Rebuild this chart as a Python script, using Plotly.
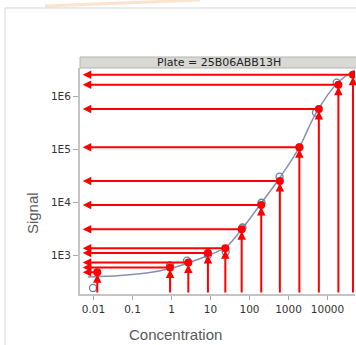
import numpy as np
import plotly.graph_objects as go

# ---- data ----
conc_points = [0.0125, 0.92, 2.7, 8.6, 24, 63, 200, 600, 1900, 6000, 19000, 45000]
signal_points = [478, 589, 731, 1105, 1356, 3095, 8890, 25200, 109000, 576000, 1660000, 2560000]

conc_obs = [0.0097, 0.92, 2.49, 8.6, 24.5, 66, 203, 588, 1900, 5070, 17200]
signal_obs = [242, 643, 791, 1014, 1169, 3350, 9810, 30400, 109000, 491000, 1810000]

conc_curve = [0.0072, 0.048, 0.28, 0.92, 2.65, 8.6, 24.9, 64, 197, 605, 1860, 5070, 17500, 50000]
signal_curve = [390, 416, 473, 564, 716, 991, 1435, 3133, 9490, 29400, 106000, 484000, 1750000, 3130000]

x_tickvals = [0.01, 0.1, 1, 10, 100, 1000, 10000]
x_ticktext = ["0.01", "0.1", "1", "10", "100", "1000", "10000"]
y_tickvals = [1e3, 1e4, 1e5, 1e6]
y_ticktext = ["1E3", "1E4", "1E5", "1E6"]

strip_title = "Plate = 25B06ABB13H"
x_title = "Concentration"
y_title = "Signal"

X_RANGE = [-2.346, 4.705]
Y_RANGE = [2.270, 6.534]

RED = "#ff0000"

fig = go.Figure()

fig.add_trace(go.Scatter(
    x=conc_curve, y=signal_curve, mode="lines",
    line=dict(color="#8890b0", width=1.5, shape="spline"),
    hoverinfo="skip", showlegend=False))

fig.add_trace(go.Scatter(
    x=conc_obs, y=signal_obs, mode="markers",
    marker=dict(symbol="circle-open", size=7, color="#6f7ca6", line=dict(width=1.3)),
    showlegend=False))

fig.add_trace(go.Scatter(
    x=conc_points, y=signal_points, mode="markers",
    marker=dict(symbol="circle", size=8, color=RED),
    showlegend=False))

annotations = []
x_tip = X_RANGE[0] + 0.07
for c, s in zip(conc_points, signal_points):
    lc, ls = np.log10(c), np.log10(s)
    # horizontal arrow: from point to the y axis
    annotations.append(dict(
        x=x_tip, y=ls, ax=lc, ay=ls, xref="x", yref="y", axref="x", ayref="y",
        text="", showarrow=True, arrowhead=2, arrowsize=0.85, arrowwidth=2,
        arrowcolor=RED, standoff=0, startstandoff=0))
    # vertical arrow: from x axis up to the point
    annotations.append(dict(
        x=lc, y=ls, ax=lc, ay=Y_RANGE[0], xref="x", yref="y", axref="x", ayref="y",
        text="", showarrow=True, arrowhead=2, arrowsize=0.85, arrowwidth=2,
        arrowcolor=RED, standoff=2, startstandoff=0))

annotations.append(dict(
    x=0.505, y=1.0243, xref="paper", yref="paper", text=strip_title,
    showarrow=False, font=dict(family="DejaVu Sans", size=11, color="#222222"),
    xanchor="center", yanchor="middle"))
annotations.append(dict(
    x=0.349, y=-0.181, xref="paper", yref="paper", text=x_title,
    showarrow=False, font=dict(family="Liberation Sans, Arial", size=15, color="#5a5a5a"),
    xanchor="center", yanchor="middle"))
annotations.append(dict(
    x=-0.1745, y=0.358, xref="paper", yref="paper", text=y_title, textangle=-90,
    showarrow=False, font=dict(family="Liberation Sans, Arial", size=15, color="#5a5a5a"),
    xanchor="center", yanchor="middle"))

shapes = [
    # outer slide frame
    dict(type="rect", xref="paper", yref="paper", x0=-0.2727, x1=1.03, y0=-0.26, y1=1.2655,
         line=dict(color="#d6d6d6", width=1), fillcolor="rgba(0,0,0,0)", layer="below"),
    # orange swoosh
    dict(type="path", xref="paper", yref="paper",
         path="M -0.1273 1.2743 Q 0.1455 1.2876 0.4364 1.3009",
         line=dict(color="#f5b474", width=3), opacity=0.35),
    # strip header
    dict(type="rect", xref="paper", yref="paper", x0=0, x1=1.01, y0=1.0, y1=1.0487,
         line=dict(color="#b5b5b2", width=1), fillcolor="#d8d8d4"),
]

fig.update_layout(
    width=356, height=345,
    margin=dict(l=80, r=1, t=68, b=51),
    paper_bgcolor="white", plot_bgcolor="white",
    showlegend=False,
    annotations=annotations, shapes=shapes,
    xaxis=dict(type="log", range=X_RANGE, tickvals=x_tickvals, ticktext=x_ticktext,
               showgrid=False, zeroline=False, showline=True, linecolor="#c4c4c4", linewidth=2,
               ticks="outside", ticklen=4, tickcolor="#aaaaaa", tickwidth=1,
               tickfont=dict(family="DejaVu Sans", size=10.5, color="#333333")),
    yaxis=dict(type="log", range=Y_RANGE, tickvals=y_tickvals, ticktext=y_ticktext,
               showgrid=False, zeroline=False, showline=True, linecolor="#c4c4c4", linewidth=2,
               ticks="outside", ticklen=5, tickcolor="#aaaaaa", tickwidth=1,
               tickfont=dict(family="DejaVu Sans", size=10.5, color="#333333")),
)

fig.write_html("out.html", config={"displayModeBar": False})

# remove the default page margin so the figure sits at the window's top-left corner
with open("out.html", "r", encoding="utf-8") as f:
    html = f.read()
html = html.replace("<head>", "<head><style>html,body{margin:0;padding:0;overflow:hidden;}</style>", 1)
with open("out.html", "w", encoding="utf-8") as f:
    f.write(html)
